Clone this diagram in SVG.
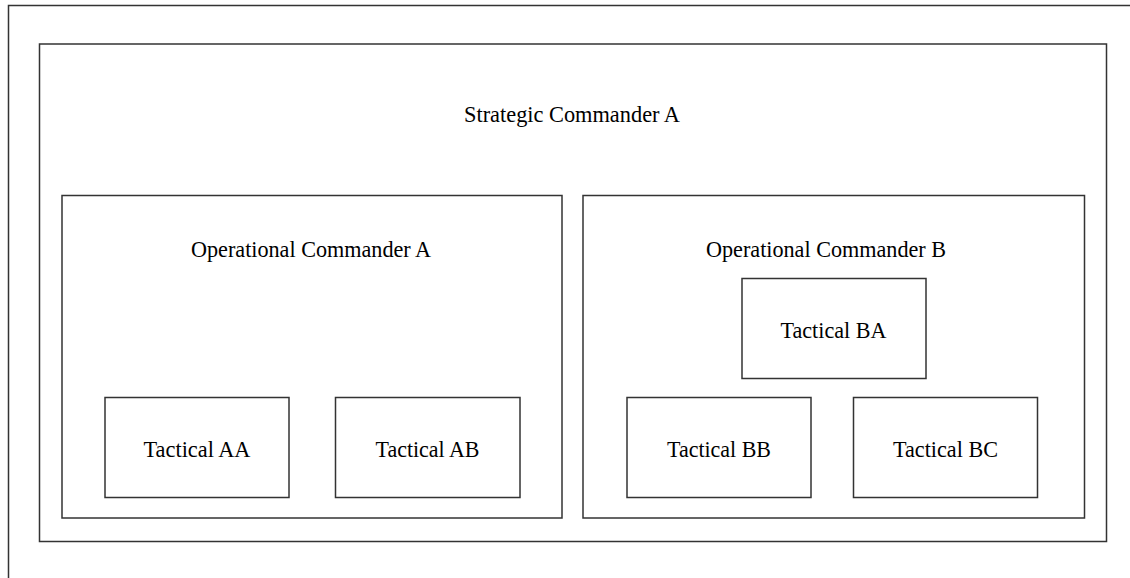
<svg xmlns="http://www.w3.org/2000/svg" width="1130" height="578" viewBox="0 0 1130 578">
<style>
.box{fill:none;stroke:#333;stroke-width:1.5}
.lbl{font-family:"Liberation Serif","Times New Roman",serif;font-size:23px;fill:#000;text-anchor:middle}
</style>
<rect width="1130" height="578" fill="#fff"/>
<g id="frame"><path class="box" d="M8.5,578 V5.5 H1130"/></g>
<g id="strategic-a"><rect class="box" x="39.5" y="44" width="1067" height="497.5"/><text class="lbl" x="572" y="122" textLength="216" lengthAdjust="spacingAndGlyphs">Strategic Commander A</text></g>
<g id="operational-a"><rect class="box" x="62" y="195.5" width="500" height="322.5"/><text class="lbl" x="311" y="257" textLength="240" lengthAdjust="spacingAndGlyphs">Operational Commander A</text></g>
<g id="operational-b"><rect class="box" x="583" y="195.5" width="501.5" height="322.5"/><text class="lbl" x="826" y="257" textLength="240" lengthAdjust="spacingAndGlyphs">Operational Commander B</text></g>
<g id="tactical-aa"><rect class="box" x="105" y="397.5" width="184" height="100"/><text class="lbl" x="197" y="457" textLength="107" lengthAdjust="spacingAndGlyphs">Tactical AA</text></g>
<g id="tactical-ab"><rect class="box" x="335.5" y="397.5" width="184.5" height="100"/><text class="lbl" x="427.5" y="457" textLength="104" lengthAdjust="spacingAndGlyphs">Tactical AB</text></g>
<g id="tactical-ba"><rect class="box" x="742" y="278.5" width="184" height="100"/><text class="lbl" x="833.5" y="338" textLength="106" lengthAdjust="spacingAndGlyphs">Tactical BA</text></g>
<g id="tactical-bb"><rect class="box" x="627" y="397.5" width="184" height="100"/><text class="lbl" x="719" y="457" textLength="104" lengthAdjust="spacingAndGlyphs">Tactical BB</text></g>
<g id="tactical-bc"><rect class="box" x="853.5" y="397.5" width="184" height="100"/><text class="lbl" x="945.5" y="457" textLength="105" lengthAdjust="spacingAndGlyphs">Tactical BC</text></g>
<g id="connectors"></g>
</svg>
